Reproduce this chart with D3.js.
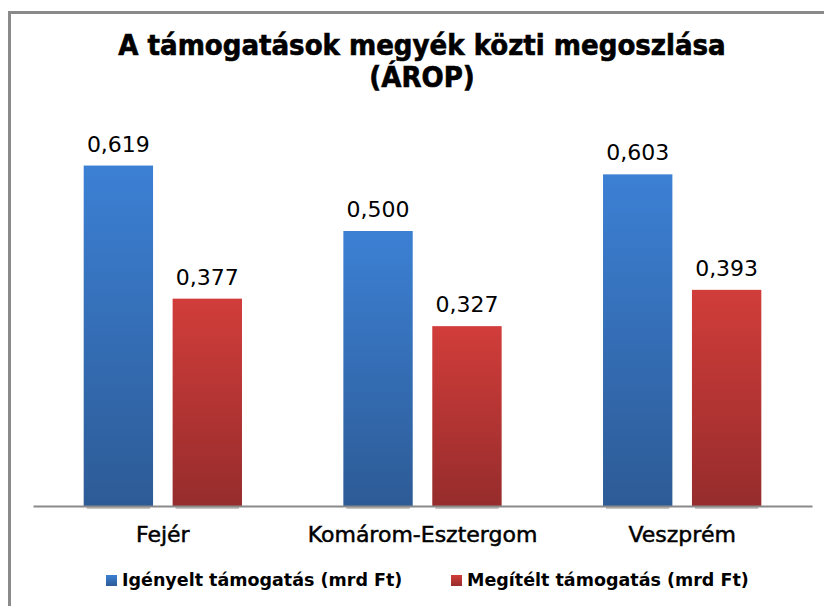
<!DOCTYPE html>
<html>
<head>
<meta charset="utf-8">
<script src="https://cdn.jsdelivr.net/npm/d3@7.9.0/dist/d3.min.js"></script>
<style>
  body { margin: 0; background: #fff; }
  svg { display: block; }
</style>
</head>
<body>
<svg id="chart" width="824" height="606"></svg>
<script>
// chart data
const titleLines = ['A támogatások megyék közti megoszlása', '(ÁROP)'];
const counties = ['Fejér', 'Komárom-Esztergom', 'Veszprém'];
const seriesNames = ['Igényelt támogatás (mrd Ft)', 'Megítélt támogatás (mrd Ft)'];
const requested = [0.619, 0.500, 0.603];
const granted = [0.377, 0.327, 0.393];

const svg = d3.select('#chart');

// gradients for the bars
const defs = svg.append('defs');
const gradColors = [['#3c80d4', '#2d5b96'], ['#d13d3a', '#962c2c']];
gradColors.forEach((c, i) => {
  const g = defs.append('linearGradient')
    .attr('id', 'grad' + i)
    .attr('x1', 0).attr('y1', 0).attr('x2', 0).attr('y2', 1);
  g.append('stop').attr('offset', '0%').attr('stop-color', c[0]);
  g.append('stop').attr('offset', '100%').attr('stop-color', c[1]);
});

// outer frame (runs off the right and bottom edge)
svg.append('rect')
  .attr('x', 9.5).attr('y', 12.5)
  .attr('width', 830).attr('height', 610)
  .attr('fill', 'none')
  .attr('stroke', '#8a8a8a')
  .attr('stroke-width', 3);

// title
svg.append('text')
  .attr('text-anchor', 'middle')
  .attr('font-family', 'DejaVu Sans Condensed, DejaVu Sans')
  .attr('font-weight', 'bold')
  .attr('font-size', 29)
  .attr('fill', '#000')
  .attr('stroke', '#000')
  .attr('stroke-width', 0.6)
  .selectAll('tspan')
  .data(titleLines)
  .join('tspan')
  .attr('x', 422)
  .attr('y', (d, i) => 55 + i * 32)
  .text(d => d);

// scales
const x0 = d3.scaleBand().domain(counties).range([33, 812]);
const x1 = d3.scaleBand().domain([0, 1]).range([0, x0.bandwidth()]).paddingInner(0.22).paddingOuter(0.57);
const y = d3.scaleLinear().domain([0, 0.7]).range([506, 121]);

const rows = counties.map((c, i) => ({ county: c, values: [requested[i], granted[i]] }));

const groups = svg.selectAll('g.group')
  .data(rows)
  .join('g')
  .attr('class', 'group')
  .attr('transform', d => `translate(${x0(d.county)},0)`);

// soft shadow under bars
groups.selectAll('rect.shadow')
  .data(d => d.values.map((v, s) => ({ v, s })))
  .join('rect')
  .attr('class', 'shadow')
  .attr('x', d => x1(d.s) + 3)
  .attr('y', y(0))
  .attr('width', x1.bandwidth() - 6)
  .attr('height', 3)
  .attr('fill', '#c8c4c0');

groups.selectAll('rect.bar')
  .data(d => d.values.map((v, s) => ({ v, s })))
  .join('rect')
  .attr('class', 'bar')
  .attr('x', d => x1(d.s))
  .attr('y', d => y(d.v))
  .attr('width', x1.bandwidth())
  .attr('height', d => y(0) - y(d.v))
  .attr('fill', d => `url(#grad${d.s})`);

groups.selectAll('text.val')
  .data(d => d.values.map((v, s) => ({ v, s })))
  .join('text')
  .attr('class', 'val')
  .attr('x', d => x1(d.s) + x1.bandwidth() / 2)
  .attr('y', d => y(d.v) - 14)
  .attr('text-anchor', 'middle')
  .attr('font-family', 'DejaVu Sans')
  .attr('font-size', 22)
  .attr('fill', '#000')
  .text(d => d3.format('.3f')(d.v).replace('.', ','));

// x axis line
const xAxis = svg.append('g').attr('transform', `translate(0,${y(0)})`)
  .call(d3.axisBottom(x0).tickSize(0).tickPadding(0));
xAxis.select('.domain').attr('stroke', '#8a8a8a').attr('stroke-width', 2);
xAxis.selectAll('.tick text')
  .attr('y', 36)
  .attr('dy', 0)
  .attr('font-family', 'DejaVu Sans')
  .attr('font-size', 22)
  .attr('fill', '#000')
  .attr('stroke', '#000')
  .attr('stroke-width', 0.5);

// legend
const legendX = [106, 451];
const legend = svg.selectAll('g.legend')
  .data(seriesNames)
  .join('g')
  .attr('class', 'legend')
  .attr('transform', (d, i) => `translate(${legendX[i]},575)`);
legend.append('rect')
  .attr('width', 11).attr('height', 11)
  .attr('fill', (d, i) => `url(#grad${i})`);
legend.append('text')
  .attr('x', 16).attr('y', 11)
  .attr('font-family', 'DejaVu Sans')
  .attr('font-weight', 'bold')
  .attr('font-size', 17.5)
  .attr('fill', '#000')
  .text(d => d);
</script>
</body>
</html>
